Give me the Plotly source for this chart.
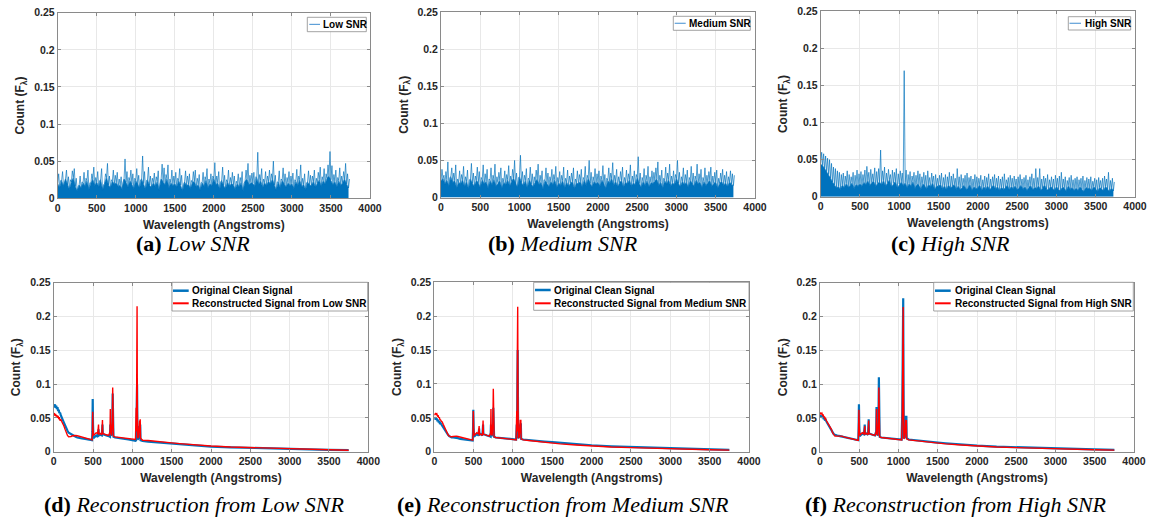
import numpy as np
import plotly.graph_objects as go

W, H = 1151, 518

# ---------------- data (values in units of 1e-3) ----------------
noisy_wavelength_step = 12.5  # Angstrom between successive samples (base, spike, base, ...)

low_snr_peaks = [
    33, 24, 36, 20, 38, 29, 25, 37, 40, 27,
    16, 30, 22, 35, 27, 38, 21, 33, 42, 28,
    36, 24, 40, 18, 33, 47, 30, 25, 38, 31,
    35, 26, 29, 22, 53, 36, 28, 38, 33, 27,
    40, 31, 25, 57, 36, 24, 42, 30, 27, 34,
    29, 37, 20, 46, 41, 32, 45, 26, 38, 30,
    35, 27, 40, 31, 19, 37, 30, 33, 24, 36,
    38, 27, 32, 21, 35, 29, 40, 26, 33, 30,
    48, 30, 36, 22, 42, 31, 25, 38, 28, 35,
    30, 23, 33, 28, 36, 20, 38, 47, 31, 34,
    35, 29, 62, 32, 40, 26, 36, 30, 38, 33,
    50, 31, 22, 37, 26, 41, 33, 28, 36, 30,
    34, 25, 39, 30, 45, 27, 33, 21, 37, 31,
    30, 38, 27, 35, 42, 29, 40, 33, 45, 63,
    44, 32, 38, 28, 41, 30, 36, 47, 33, 26,
]
low_snr_base = [
    20, 14, 24, 16, 26, 18, 12, 22, 28, 16,
    10, 18, 14, 21, 16, 24, 12, 20, 26, 17,
    22, 15, 25, 11, 20, 28, 18, 14, 23, 19,
    21, 16, 18, 12, 26, 22, 15, 24, 19, 13,
    24, 18, 14, 26, 20, 12, 25, 17, 15, 21,
    16, 23, 11, 26, 22, 18, 27, 14, 21, 17,
    20, 15, 24, 18, 10, 22, 17, 19, 13, 21,
    23, 15, 19, 11, 21, 16, 25, 14, 20, 17,
    27, 18, 21, 12, 24, 17, 13, 22, 16, 20,
    18, 12, 20, 15, 22, 10, 23, 26, 18, 21,
    20, 16, 28, 18, 24, 14, 21, 17, 23, 19,
    26, 18, 11, 22, 14, 24, 19, 15, 21, 17,
    20, 13, 23, 17, 25, 15, 19, 11, 22, 18,
    17, 23, 15, 20, 25, 16, 24, 19, 27, 30,
    25, 18, 23, 15, 24, 17, 21, 26, 19, 14,
]

medium_snr_peaks = [
    38, 30, 35, 48, 27, 40, 33, 44, 25, 36,
    31, 42, 28, 37, 24, 46, 33, 29, 41, 35,
    27, 44, 32, 38, 25, 40, 30, 45, 28, 34,
    40, 26, 36, 31, 43, 29, 38, 50, 33, 27,
    57, 35, 30, 39, 26, 41, 32, 28, 37, 45,
    30, 36, 24, 40, 33, 28, 38, 31, 42, 27,
    35, 30, 41, 26, 37, 29, 33, 40, 25, 36,
    31, 38, 27, 42, 30, 50, 34, 28, 39, 32,
    36, 29, 43, 31, 26, 40, 33, 47, 30, 38,
    28, 35, 41, 27, 37, 32, 44, 29, 36, 31,
    55, 33, 27, 39, 30, 42, 28, 36, 34, 40,
    48, 30, 37, 26, 41, 33, 45, 29, 36, 31,
    50, 34, 28, 40, 31, 37, 27, 42, 33, 29,
    45, 32, 38, 27, 40, 30, 35, 41, 29, 34,
    37, 26, 33, 38, 30, 35, 28, 36, 32, 30,
]
medium_snr_base = [
    22, 26, 18, 24, 15, 28, 20, 23, 12, 21,
    18, 24, 14, 22, 11, 25, 19, 15, 23, 20,
    13, 24, 18, 22, 12, 23, 17, 25, 15, 20,
    23, 12, 21, 17, 24, 15, 22, 26, 18, 13,
    28, 20, 16, 23, 12, 24, 18, 14, 21, 25,
    17, 21, 11, 23, 19, 14, 22, 17, 24, 13,
    20, 16, 23, 12, 21, 15, 19, 22, 11, 20,
    18, 22, 13, 24, 16, 26, 19, 14, 22, 18,
    21, 15, 24, 17, 12, 23, 19, 26, 16, 22,
    14, 20, 23, 13, 21, 18, 24, 15, 20, 17,
    27, 19, 13, 22, 16, 23, 14, 20, 19, 22,
    25, 16, 21, 12, 23, 18, 24, 15, 20, 17,
    26, 19, 14, 22, 17, 21, 13, 23, 18, 15,
    24, 18, 21, 13, 22, 16, 20, 23, 15, 19,
    21, 12, 19, 22, 16, 20, 14, 21, 18, 16,
]

high_snr_peaks = [
    60, 58, 55, 52, 50, 45, 40, 38, 35, 33,
    30, 32, 28, 35, 30, 27, 33, 29, 36, 31,
    34, 30, 36, 41, 33, 37, 31, 39, 34, 38,
    63, 35, 40, 32, 37, 30, 36, 33, 38, 31,
    35, 32, 170, 36, 30, 34, 28, 33, 29, 35,
    31, 27, 33, 29, 35, 26, 32, 28, 30, 25,
    29, 32, 26, 30, 27, 33, 28, 31, 25, 38,
    27, 30, 25, 29, 32, 26, 28, 24, 30, 27,
    25, 29, 23, 28, 26, 31, 24, 27, 30, 25,
    28, 24, 27, 31, 23, 26, 29, 25, 28, 24,
    27, 30, 24, 26, 29, 23, 27, 31, 25, 38,
    26, 38, 24, 28, 25, 30, 23, 27, 24, 29,
    25, 28, 33, 24, 27, 22, 26, 29, 23, 25,
    27, 23, 25, 28, 22, 26, 24, 27, 21, 25,
    23, 26, 22, 25, 28, 24, 33, 22, 25, 20,
]
high_snr_base = [
    44, 42, 38, 34, 30, 25, 20, 16, 12, 14,
    10, 16, 12, 18, 13, 15, 19, 11, 17, 14,
    18, 14, 20, 16, 22, 15, 19, 21, 14, 18,
    20, 16, 22, 14, 19, 23, 13, 18, 21, 12,
    17, 20, 15, 19, 12, 18, 14, 21, 11, 17,
    16, 10, 18, 14, 11, 17, 13, 19, 9, 15,
    14, 17, 10, 15, 9, 16, 12, 14, 17, 10,
    15, 9, 13, 16, 10, 12, 17, 8, 14, 11,
    12, 16, 8, 14, 10, 15, 9, 12, 16, 10,
    14, 8, 13, 10, 12, 16, 9, 14, 11, 15,
    9, 12, 16, 10, 14, 8, 13, 15, 9, 13,
    11, 15, 8, 12, 16, 10, 9, 14, 12, 8,
    14, 10, 8, 13, 12, 7, 15, 10, 13, 8,
    12, 8, 14, 10, 7, 13, 11, 12, 8, 14,
    10, 7, 13, 11, 8, 14, 10, 7, 12, 8,
]

# reconstruction panels: shared wavelength grid (Angstrom), values in 1e-3
rec_wavelength = [
    0, 8, 16, 24, 32, 40, 48, 56, 64, 72,
    80, 90, 100, 115, 130, 145, 160, 175, 190, 205,
    220, 240, 260, 280, 300, 330, 360, 400, 440, 480,
    488, 492, 496, 500, 505, 520, 540, 560, 566, 570,
    574, 590, 612, 616, 620, 624, 640, 670, 700, 716,
    720, 724, 735, 745, 750, 754, 760, 780, 850, 950,
    1040, 1048, 1052, 1056, 1060, 1064, 1068, 1080, 1092, 1096,
    1100, 1104, 1130, 1200, 1300, 1400, 1500, 1600, 1800, 2000,
    2250, 2500, 2750, 3000, 3250, 3500, 3750,
]
clean_d = [
    69, 66, 70, 65, 68, 63, 66, 60, 62, 57,
    58, 54, 52, 47, 43, 38, 34, 31, 28, 27,
    25, 24, 23, 22, 21, 20, 19.5, 19, 18, 17,
    17, 30, 78, 40, 20, 22, 24, 22, 28, 33,
    24, 25, 24, 35, 40, 26, 25, 24, 23, 22,
    40, 24, 25, 40, 86, 40, 22, 21, 20, 18,
    16, 17, 30, 60, 99, 40, 18, 20, 38, 25,
    40, 17, 16, 15, 14, 13, 12, 11, 9, 7.5,
    6.5, 5.5, 4.8, 4, 3.3, 2.7, 2.2,
]
recon_d = [
    55, 57, 53, 56, 52, 54, 50, 53, 48, 51,
    46, 48, 45, 42, 38, 33, 28, 24, 22, 22,
    22.5, 23.5, 24, 24, 23.5, 22.5, 21.5, 20, 19, 17.5,
    17.5, 25, 59, 35, 24, 26, 28, 27, 32, 40,
    26, 27, 25, 38, 47, 27, 26, 25, 24, 30,
    63, 28, 24, 45, 95, 45, 23, 22, 21, 19,
    18, 65, 30, 120, 215, 60, 20, 22, 46, 28,
    48, 20, 17, 16.5, 15, 14, 13, 12, 10, 8.5,
    7, 6, 5, 4.2, 3.5, 2.8, 2.2,
]
clean_e = [
    50, 48, 51, 47, 49, 45, 47, 43, 45, 41,
    42, 40, 39, 36, 33, 30, 27, 25, 23, 22,
    21, 21, 21, 20.5, 20, 19, 18.5, 18, 17, 16.5,
    16.5, 30, 62, 35, 22, 24, 26, 24, 28, 34,
    25, 26, 24, 33, 40, 26, 25, 24, 23, 22,
    40, 24, 24, 40, 65, 35, 22, 21, 20, 18.5,
    18, 40, 30, 100, 150, 60, 20, 22, 40, 25,
    42, 19, 18, 17, 16, 15, 14, 13, 11, 9.5,
    8, 7, 6, 5, 4.2, 3.5, 2.8,
]
recon_e = [
    54, 56, 57, 55, 56, 53, 54, 50, 51, 47,
    47, 45, 44, 40, 36, 32, 28, 25, 23, 22,
    22, 22.5, 23, 23, 22.5, 21.5, 20.5, 19, 18, 17,
    17, 25, 60, 35, 24, 26, 28, 26, 30, 38,
    25, 26, 24, 36, 46, 26, 25, 24, 23, 28,
    63, 26, 24, 45, 93, 45, 22, 21, 20, 18.5,
    17.5, 60, 30, 150, 214, 80, 20, 22, 47, 27,
    47, 19, 17.5, 16.5, 15, 14, 12.5, 11.5, 10, 8.5,
    7, 6, 5, 4.2, 3.5, 2.8, 2.3,
]
clean_f = [
    52, 54, 51, 53, 50, 52, 48, 50, 46, 47,
    45, 43, 42, 39, 36, 32, 28, 26, 25, 25,
    24, 23.5, 23, 22.5, 22, 21, 20, 19, 18, 17,
    17, 35, 70, 40, 23, 25, 27, 25, 30, 40,
    26, 27, 25, 38, 48, 27, 26, 25, 24, 30,
    66, 28, 24, 50, 110, 50, 22, 21, 20, 18.5,
    18, 60, 143, 160, 227, 100, 20, 22, 53, 28,
    53, 20, 18, 17, 16, 15, 13.5, 12.5, 10.5, 9,
    7.5, 6.5, 5.5, 4.7, 4, 3.3, 2.8,
]
recon_f = [
    55, 57, 56, 57, 54, 55, 51, 52, 48, 49,
    46, 44, 43, 40, 37, 33, 28, 25, 23, 23,
    23, 23.5, 23.5, 23, 22, 21, 20, 19, 18, 17,
    17, 30, 62, 36, 24, 26, 28, 26, 30, 38,
    26, 27, 25, 36, 46, 27, 26, 25, 24, 30,
    63, 27, 24, 45, 95, 45, 22, 21, 20, 18.5,
    17.5, 50, 120, 150, 214, 80, 19, 22, 47, 27,
    47, 19, 17.5, 16.5, 15, 14, 12.5, 11.5, 10, 8.5,
    7, 6, 5, 4.2, 3.5, 2.8, 2.3,
]

x_tick_vals = [0, 500, 1000, 1500, 2000, 2500, 3000, 3500, 4000]
y_tick_vals = [0, 0.05, 0.1, 0.15, 0.2, 0.25]
y_tick_text = ["0", "0.05", "0.1", "0.15", "0.2", "0.25"]

captions = [
    ("(a)", "Low SNR"), ("(b)", "Medium SNR"), ("(c)", "High SNR"),
    ("(d)", "Reconstruction from Low SNR"), ("(e)", "Reconstruction from Medium SNR"),
    ("(f)", "Reconstruction from High SNR"),
]
top_legend_names = ["Low SNR", "Medium SNR", "High SNR"]
bottom_legend_names = ["Reconstructed Signal from Low SNR",
                       "Reconstructed Signal from Medium SNR",
                       "Reconstructed Signal from High SNR"]

# ---------------- styling / layout ----------------
BLUE = "#0072BD"
RED = "#FF0000"
SANS = "Liberation Sans"
SERIF = "Liberation Serif"

# plot areas in pixels: (left, right, top, bottom)
panels = [
    (57.7, 370.0, 12.7, 198.3),
    (441.0, 755.0, 12.2, 197.5),
    (820.7, 1135.0, 11.3, 196.8),
    (53.7, 368.3, 282.6, 451.7),
    (434.3, 749.0, 282.4, 451.7),
    (820.0, 1134.0, 282.6, 451.7),
]
caption_pos = [(193, 244), (563, 244), (950, 244), (194, 504), (563, 504), (956, 504)]

def px(x):
    return x / W

def py(y):
    return 1 - y / H

fig = go.Figure()

def interleave(base, peaks):
    vals = []
    for t, p in zip(base, peaks):
        vals += [t, p]
    vals = np.array(vals, dtype=float) * 1e-3
    xs = np.arange(len(vals)) * noisy_wavelength_step
    return xs, vals

noisy = [(low_snr_base, low_snr_peaks), (medium_snr_base, medium_snr_peaks),
         (high_snr_base, high_snr_peaks)]
for i, (tr, pk) in enumerate(noisy):
    xs, ys = interleave(tr, pk)
    ax = "" if i == 0 else str(i + 1)
    # dense dark body of the noise (the base level of every sample pair)
    fig.add_trace(go.Scatter(x=xs[0::2], y=ys[0::2], mode="lines", xaxis="x" + ax,
                             yaxis="y" + ax, line=dict(color=BLUE, width=0.6),
                             fill="tozeroy", fillcolor=BLUE, showlegend=False,
                             hoverinfo="skip"))
    # thin spikes rising out of it
    fig.add_trace(go.Scatter(x=xs, y=ys, mode="lines", xaxis="x" + ax, yaxis="y" + ax,
                             line=dict(color="rgba(0,114,189,0.85)", width=0.8),
                             showlegend=False, name=top_legend_names[i]))

rec = [(clean_d, recon_d), (clean_e, recon_e), (clean_f, recon_f)]
wl = np.array(rec_wavelength, dtype=float)
for j, (cl, rc) in enumerate(rec):
    ax = str(j + 4)
    fig.add_trace(go.Scatter(x=wl, y=np.array(cl) * 1e-3, mode="lines", xaxis="x" + ax,
                             yaxis="y" + ax, line=dict(color=BLUE, width=2.2),
                             showlegend=False, name="Original Clean Signal"))
    fig.add_trace(go.Scatter(x=wl, y=np.array(rc) * 1e-3, mode="lines", xaxis="x" + ax,
                             yaxis="y" + ax, line=dict(color=RED, width=1.4),
                             showlegend=False, name=bottom_legend_names[j]))

tick_font = dict(family=SANS, size=10.5, color="#262626", weight="bold")
title_font = dict(family=SANS, size=12, color="#262626", weight="bold")
axis_common = dict(showline=True, mirror="ticks", linecolor="#8a8a8a", linewidth=1,
                   ticks="inside", ticklen=3, tickcolor="#8a8a8a", showgrid=True,
                   gridcolor="#e8e8e8", gridwidth=1, zeroline=False, automargin=False,
                   tickfont=tick_font)

layout = dict(width=W, height=H, margin=dict(l=0, r=0, t=0, b=0),
              paper_bgcolor="white", plot_bgcolor="white", showlegend=False)
for i, (l, r, t, b) in enumerate(panels):
    ax = "" if i == 0 else str(i + 1)
    layout["xaxis" + ax] = dict(axis_common, domain=[px(l), px(r)], range=[0, 4000],
                                tickvals=x_tick_vals, anchor="y" + ax,
                                title=dict(text="Wavelength (Angstroms)", font=title_font,
                                           standoff=7))
    layout["yaxis" + ax] = dict(axis_common, domain=[py(b), py(t)], range=[0, 0.25],
                                tickvals=y_tick_vals, ticktext=y_tick_text, anchor="x" + ax,
                                title=dict(text="Count (F<sub>λ</sub>)", font=title_font,
                                           standoff=6))
fig.update_layout(**layout)

shapes = []
annotations = []
leg_font = dict(family=SANS, size=10, color="#000000", weight="bold")

# top legends: (box l, r, t, b, line x0, x1, y, text x)
top_leg = [
    (307.3, 366.3, 17.3, 31.7, 309.3, 320.0, 24.4, 320.7),
    (673.3, 750.3, 16.3, 30.3, 674.7, 685.7, 23.3, 686.7),
    (1068.3, 1130.7, 16.7, 30.0, 1069.5, 1081.0, 23.3, 1082.7),
]
for (bl, br, bt, bb, lx0, lx1, ly, tx), name in zip(top_leg, top_legend_names):
    shapes.append(dict(type="rect", xref="paper", yref="paper", x0=px(bl), x1=px(br),
                       y0=py(bb), y1=py(bt), line=dict(color="#8a8a8a", width=0.8),
                       fillcolor="white", layer="above"))
    shapes.append(dict(type="line", xref="paper", yref="paper", x0=px(lx0), x1=px(lx1),
                       y0=py(ly), y1=py(ly), line=dict(color="#5fa0d8", width=1.2)))
    annotations.append(dict(xref="paper", yref="paper", x=px(tx), y=py(ly), text=name,
                            showarrow=False, xanchor="left", yanchor="middle", font=leg_font))

bot_leg = [
    (172.0, 367.7, 282.3, 311.0, 173.0, 188.7, 290.7, 303.3, 190.0),
    (533.7, 749.0, 282.3, 310.3, 535.0, 550.7, 290.0, 303.3, 552.0),
    (933.7, 1133.3, 282.3, 311.0, 935.0, 950.7, 290.7, 303.3, 952.7),
]
for (bl, br, bt, bb, lx0, lx1, ly1, ly2, tx), name in zip(bot_leg, bottom_legend_names):
    shapes.append(dict(type="rect", xref="paper", yref="paper", x0=px(bl), x1=px(br),
                       y0=py(bb), y1=py(bt), line=dict(color="#8a8a8a", width=0.8),
                       fillcolor="white", layer="above"))
    shapes.append(dict(type="line", xref="paper", yref="paper", x0=px(lx0), x1=px(lx1),
                       y0=py(ly1), y1=py(ly1), line=dict(color=BLUE, width=2.5)))
    shapes.append(dict(type="line", xref="paper", yref="paper", x0=px(lx0), x1=px(lx1),
                       y0=py(ly2), y1=py(ly2), line=dict(color=RED, width=2)))
    annotations.append(dict(xref="paper", yref="paper", x=px(tx), y=py(ly1),
                            text="Original Clean Signal", showarrow=False, xanchor="left",
                            yanchor="middle", font=leg_font))
    annotations.append(dict(xref="paper", yref="paper", x=px(tx), y=py(ly2), text=name,
                            showarrow=False, xanchor="left", yanchor="middle", font=leg_font))

for (lab, txt), (cx, cy) in zip(captions, caption_pos):
    annotations.append(dict(xref="paper", yref="paper", x=px(cx), y=py(cy),
                            text=f"<b>{lab}</b> <i>{txt}</i>", showarrow=False,
                            xanchor="center", yanchor="middle",
                            font=dict(family=SERIF, size=22, color="#000000")))

fig.update_layout(shapes=shapes, annotations=annotations)
fig.write_html("out.html", config={"displayModeBar": False},
               post_script="document.body.style.margin='0px';document.body.style.padding='0px';")
